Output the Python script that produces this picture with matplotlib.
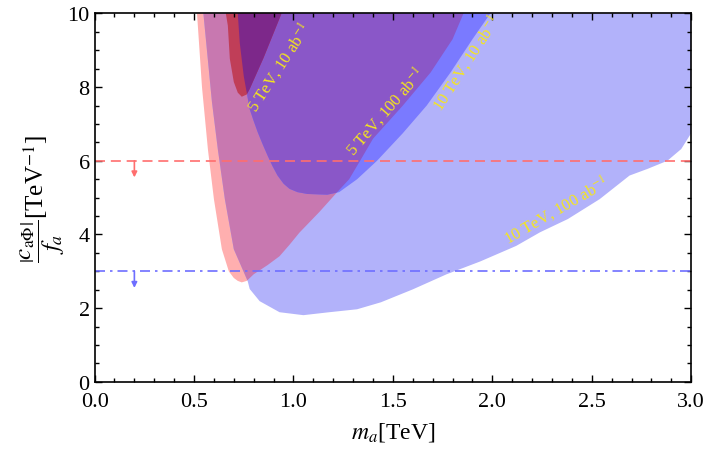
import matplotlib
matplotlib.use("Agg")
import matplotlib.pyplot as plt
from matplotlib.ticker import MultipleLocator, FormatStrFormatter

plt.rcParams['font.family'] = ['Liberation Serif', 'DejaVu Serif']
plt.rcParams['mathtext.fontset'] = 'stix'

# 5 TeV, 100 ab^-1 region boundary (left edge down, right edge up)
r100_x = [0.515, 0.54, 0.57, 0.60, 0.64, 0.675, 0.70, 0.72, 0.74, 0.765, 0.80, 0.87, 0.93,
          0.98, 1.03, 1.13, 1.22, 1.28, 1.335, 1.40, 1.55, 1.69, 1.80, 1.855]
r100_y = [10.0, 8.0, 6.3, 4.96, 3.6, 3.0, 2.82, 2.74, 2.70, 2.74, 2.92, 3.17, 3.41,
          3.72, 4.05, 4.61, 5.15, 5.5, 6.0, 6.6, 7.5, 8.4, 9.3, 10.0]

# 5 TeV, 10 ab^-1 region boundary
r10_x = [0.66, 0.67, 0.68, 0.70, 0.72, 0.74, 0.765, 0.78, 0.85, 0.94]
r10_y = [10.0, 9.67, 8.77, 8.14, 7.85, 7.74, 7.8, 7.95, 8.8, 10.0]

# 10 TeV, 100 ab^-1 region boundary
b100_x = [0.547, 0.59, 0.62, 0.655, 0.70, 0.75, 0.77, 0.78, 0.83, 0.93, 1.05, 1.18, 1.32,
          1.44, 1.60, 1.77, 1.94, 2.12, 2.24, 2.38, 2.54, 2.69, 2.78, 2.88, 2.95, 3.0, 3.0]
b100_y = [10.0, 7.6, 6.3, 4.96, 3.6, 2.98, 2.73, 2.52, 2.19, 1.89, 1.81, 1.89, 1.97,
          2.16, 2.51, 2.92, 3.27, 3.69, 4.06, 4.42, 4.96, 5.6, 5.78, 6.0, 6.32, 6.75, 10.0]

# 10 TeV, 10 ab^-1 region boundary
b10_x = [0.72, 0.73, 0.75, 0.765, 0.78, 0.80, 0.82, 0.845, 0.87, 0.895, 0.92, 0.95, 0.98,
         1.02, 1.07, 1.17, 1.23, 1.32, 1.42, 1.55, 1.67, 1.79, 1.90, 1.99]
b10_y = [10.0, 9.2, 8.3, 7.85, 7.4, 7.08, 6.78, 6.45, 6.14, 5.85, 5.6, 5.38, 5.24,
         5.15, 5.1, 5.08, 5.15, 5.5, 6.0, 6.75, 7.5, 8.4, 9.3, 10.0]

# current bounds
red_bound = 6.0
blue_bound = 3.0

labels = ['5 TeV, 10 ab$^{-1}$', '5 TeV, 100 ab$^{-1}$',
          '10 TeV, 10 ab$^{-1}$', '10 TeV, 100 ab$^{-1}$']
label_x = [0.925, 1.46, 1.87, 2.32]
label_y = [8.55, 7.35, 8.69, 4.69]
label_rot = [57, 49, 57, 30]

fig = plt.figure(figsize=(7.06, 4.52), dpi=100)
ax = fig.add_axes([0.134, 0.153, 0.845, 0.815])

# base regions, overlaps painted with clipped copies
pink = ax.fill(r100_x, r100_y, color='#ffafaf', lw=0)[0]
ax.fill(b100_x, b100_y, color='#b2b2fa', lw=0)
over = ax.fill(b100_x, b100_y, color='#c878b0', lw=0)[0]
over.set_clip_path(pink)
mid = ax.fill(b10_x, b10_y, color='#7a7aff', lw=0)[0]
over = ax.fill(b10_x, b10_y, color='#8a57c8', lw=0)[0]
over.set_clip_path(pink)
ax.fill(r10_x, r10_y, color='#c03e58', lw=0)
over = ax.fill(r10_x, r10_y, color='#7d288a', lw=0)[0]
over.set_clip_path(mid)

ax.axhline(red_bound, color='#ff6e6e', lw=1.2, dashes=(6, 3.5))
ax.axhline(blue_bound, color='#6e6eff', lw=1.2, dashes=(6, 3, 1.5, 3))
ax.annotate('', xy=(0.2, red_bound - 0.45), xytext=(0.2, red_bound),
            arrowprops=dict(arrowstyle='-|>', color='#ff6e6e', lw=1.2,
                            mutation_scale=8, shrinkA=0, shrinkB=0))
ax.annotate('', xy=(0.2, blue_bound - 0.45), xytext=(0.2, blue_bound),
            arrowprops=dict(arrowstyle='-|>', color='#6e6eff', lw=1.2,
                            mutation_scale=8, shrinkA=0, shrinkB=0))

for t, x, y, r in zip(labels, label_x, label_y, label_rot):
    ax.text(x, y, t, rotation=r, rotation_mode='anchor', ha='center', va='center',
            color='#f5e61e', fontsize=12)

ax.set_xlim(0, 3)
ax.set_ylim(0, 10)
ax.xaxis.set_major_locator(MultipleLocator(0.5))
ax.xaxis.set_minor_locator(MultipleLocator(0.1))
ax.yaxis.set_major_locator(MultipleLocator(2))
ax.yaxis.set_minor_locator(MultipleLocator(0.5))
ax.xaxis.set_major_formatter(FormatStrFormatter('%.1f'))
ax.tick_params(which='both', direction='in', top=True, right=True, labelsize=16, width=1)
ax.tick_params(which='major', length=5)
ax.tick_params(which='minor', length=3)
ax.tick_params(axis='x', pad=7)
for s in ax.spines.values():
    s.set_linewidth(1.2)

ax.set_xlabel('$m_a$[TeV]', fontsize=17, labelpad=7)
ax.set_ylabel(r'$\dfrac{\left|c_{\mathrm{a\Phi}}\right|}{f_a}$[TeV$^{-1}$]', fontsize=18, labelpad=0)

fig.savefig('out.png', dpi=100)
